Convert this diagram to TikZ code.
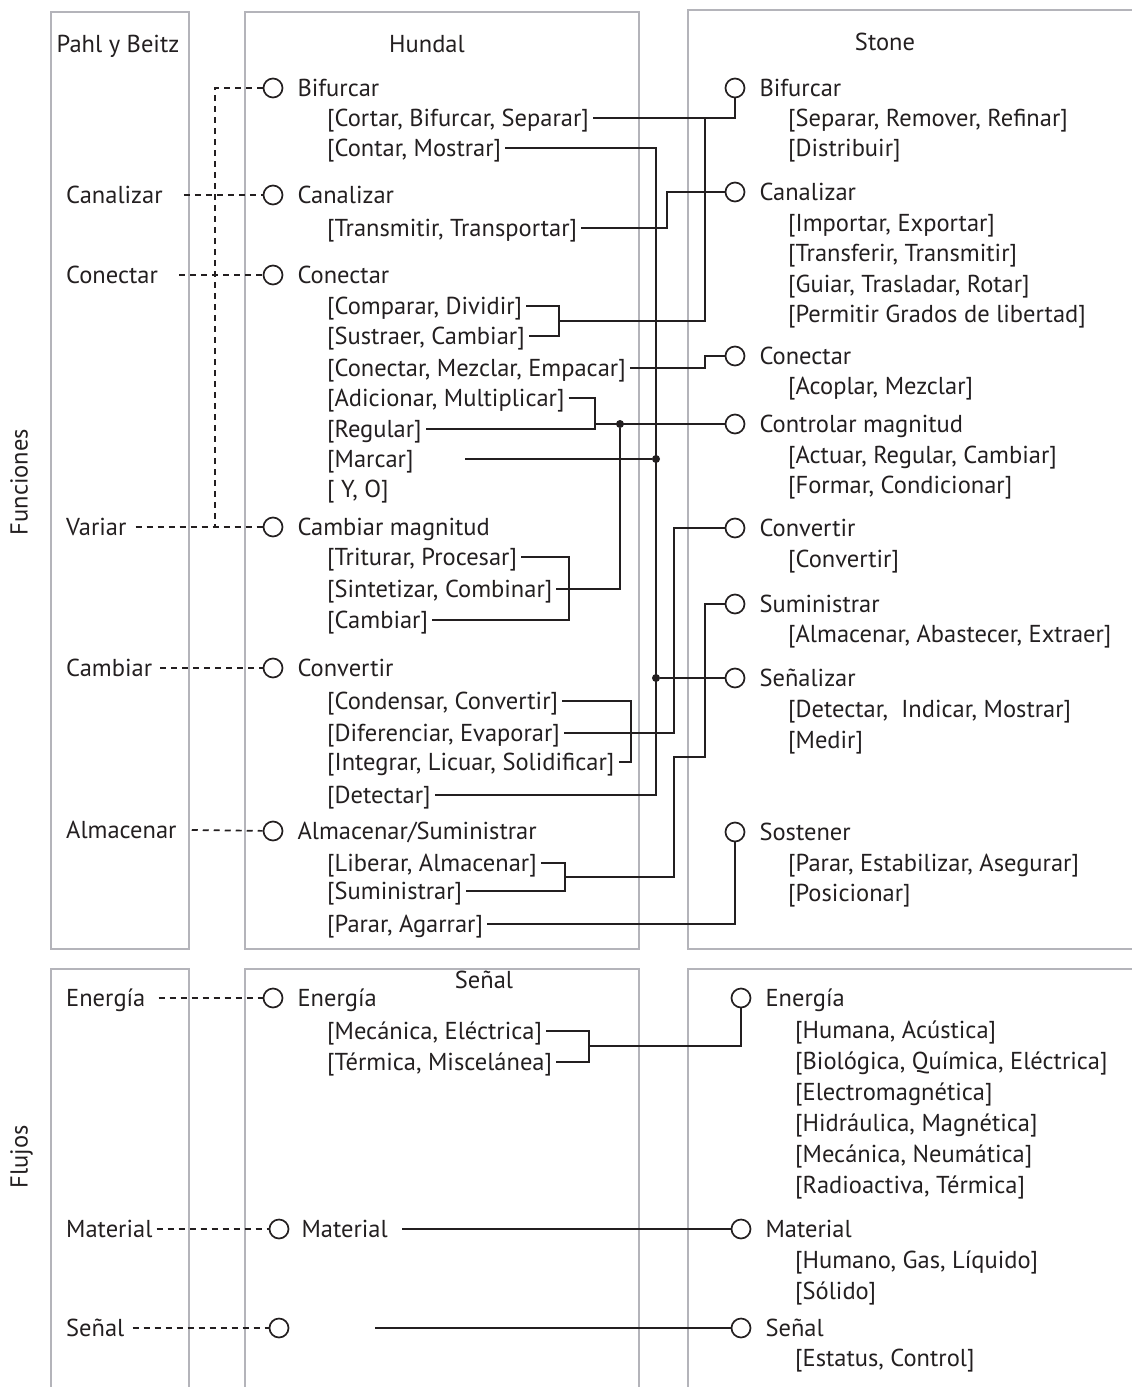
\documentclass[tikz,border=0pt]{standalone}
\usepackage{fontspec}
\setmainfont{PT Sans}
\usetikzlibrary{positioning}
\definecolor{Ink}{RGB}{35,31,32}
\definecolor{FrameGray}{RGB}{180,180,186}
\newcommand{\lblfont}{\fontsize{24.5}{28}\selectfont}

\begin{document}
\begin{tikzpicture}[x=1pt,y=-1pt,
    box/.style={draw=FrameGray,line width=1.7pt},
    ttl/.style={font=\lblfont,text=Ink,inner sep=0pt,text height=17pt,text depth=0pt},
    lbl/.style={font=\lblfont,text=Ink,anchor=west,inner xsep=4pt,inner ysep=0pt,
                text height=17pt,text depth=0pt},
    port/.style={circle,draw=Ink,line width=1.7pt,minimum size=19pt,inner sep=0pt},
    jn/.style={circle,fill=Ink,minimum size=8pt,inner sep=0pt},
    ln/.style={draw=Ink,line width=1.9pt},
    dsh/.style={draw=Ink,line width=1.7pt,dash pattern=on 6pt off 5pt}
  ]
    \useasboundingbox (0,0) rectangle (1132,1387);

    % frames
    \draw[box] (51,12) rectangle (189,949);
    \draw[box] (245,12) rectangle (639,949);
    \draw[box] (1140,10) -- (688,10) -- (688,949) -- (1140,949);
    \draw[box] (51,1395) -- (51,969) -- (189,969) -- (189,1395);
    \draw[box] (245,1395) -- (245,969) -- (639,969) -- (639,1395);
    \draw[box] (1140,969) -- (688,969) -- (688,1395);

    % headings
    \node[ttl] (tPB) at (118,44) {Pahl y Beitz};
    \node[ttl] (tHu) at (427,44) {Hundal};
    \node[ttl] (tSt) at (885,42) {Stone};
    \node[ttl] (tSg) at (484,980) {Señal};
    \node[ttl,rotate=90] (tFun) at (19,482) {Funciones};
    \node[ttl,rotate=90] (tFlu) at (19,1157) {Flujos};

    % Pahl y Beitz
    \node[lbl] (pbCan) at (62,195) {Canalizar};
    \node[lbl] (pbCon) at (62,275) {Conectar};
    \node[lbl] (pbVar) at (62,527) {Variar};
    \node[lbl] (pbCam) at (62,668) {Cambiar};
    \node[lbl] (pbAlm) at (62,830) {Almacenar};
    \node[lbl] (pbEne) at (62,998) {Energía};
    \node[lbl] (pbMat) at (62,1229) {Material};
    \node[lbl] (pbSen) at (62,1328) {Señal};

    % Hundal
    \node[port] (huBif) at (273,88) {};
    \node[lbl,right=10pt of huBif] (huBifT) {Bifurcar};
    \node[lbl] (hu1a) at (323,118) {[Cortar, Bifurcar, Separar]};
    \node[lbl] (hu1b) at (323,148) {[Contar, Mostrar]};
    \node[port] (huCan) at (273,195) {};
    \node[lbl,right=10pt of huCan] (huCanT) {Canalizar};
    \node[lbl] (hu2a) at (323,228) {[Transmitir, Transportar]};
    \node[port] (huCon) at (273,275) {};
    \node[lbl,right=10pt of huCon] (huConT) {Conectar};
    \node[lbl] (hu3a) at (323,306) {[Comparar, Dividir]};
    \node[lbl] (hu3b) at (323,336) {[Sustraer, Cambiar]};
    \node[lbl] (hu3c) at (323,368) {[Conectar, Mezclar, Empacar]};
    \node[lbl] (hu3d) at (323,398) {[Adicionar, Multiplicar]};
    \node[lbl] (hu3e) at (323,429) {[Regular]};
    \node[lbl] (hu3f) at (323,459) {[Marcar]};
    \node[lbl] (hu3g) at (323,489) {[ Y, O]};
    \node[port] (huCam) at (273,527) {};
    \node[lbl,right=10pt of huCam] (huCamT) {Cambiar magnitud};
    \node[lbl] (hu4a) at (323,557) {[Triturar, Procesar]};
    \node[lbl] (hu4b) at (323,589) {[Sintetizar, Combinar]};
    \node[lbl] (hu4c) at (323,620) {[Cambiar]};
    \node[port] (huCvt) at (273,668) {};
    \node[lbl,right=10pt of huCvt] (huCvtT) {Convertir};
    \node[lbl] (hu5a) at (323,701) {[Condensar, Convertir]};
    \node[lbl] (hu5b) at (323,733) {[Diferenciar, Evaporar]};
    \node[lbl] (hu5c) at (323,762) {[Integrar, Licuar, Solidificar]};
    \node[lbl] (hu5d) at (323,795) {[Detectar]};
    \node[port] (huAlm) at (273,831) {};
    \node[lbl,right=10pt of huAlm] (huAlmT) {Almacenar/Suministrar};
    \node[lbl] (hu6a) at (323,863) {[Liberar, Almacenar]};
    \node[lbl] (hu6b) at (323,891) {[Suministrar]};
    \node[lbl] (hu6c) at (323,924) {[Parar, Agarrar]};
    \node[port] (huEne) at (273,998) {};
    \node[lbl,right=10pt of huEne] (huEneT) {Energía};
    \node[lbl] (hu7a) at (323,1031) {[Mecánica, Eléctrica]};
    \node[lbl] (hu7b) at (323,1062) {[Térmica, Miscelánea]};
    \node[port] (huMat) at (279,1229) {};
    \node[lbl,right=8pt of huMat] (huMatT) {Material};
    \node[port] (huSen) at (279,1328) {};

    % Stone
    \node[port] (stBif) at (735,88) {};
    \node[lbl,right=10pt of stBif] (stBifT) {Bifurcar};
    \node[lbl] (st1a) at (784,118) {[Separar, Remover, Refinar]};
    \node[lbl] (st1b) at (784,148) {[Distribuir]};
    \node[port] (stCan) at (735,192) {};
    \node[lbl,right=10pt of stCan] (stCanT) {Canalizar};
    \node[lbl] (st2a) at (784,223) {[Importar, Exportar]};
    \node[lbl] (st2b) at (784,253) {[Transferir, Transmitir]};
    \node[lbl] (st2c) at (784,284) {[Guiar, Trasladar, Rotar]};
    \node[lbl] (st2d) at (784,314) {[Permitir Grados de libertad]};
    \node[port] (stCon) at (735,356) {};
    \node[lbl,right=10pt of stCon] (stConT) {Conectar};
    \node[lbl] (st3a) at (784,386) {[Acoplar, Mezclar]};
    \node[port] (stCtl) at (735,424) {};
    \node[lbl,right=10pt of stCtl] (stCtlT) {Controlar magnitud};
    \node[lbl] (st4a) at (784,455) {[Actuar, Regular, Cambiar]};
    \node[lbl] (st4b) at (784,485) {[Formar, Condicionar]};
    \node[port] (stCvt) at (735,528) {};
    \node[lbl,right=10pt of stCvt] (stCvtT) {Convertir};
    \node[lbl] (st5a) at (784,559) {[Convertir]};
    \node[port] (stSum) at (735,604) {};
    \node[lbl,right=10pt of stSum] (stSumT) {Suministrar};
    \node[lbl] (st6a) at (784,634) {[Almacenar, Abastecer, Extraer]};
    \node[port] (stSen) at (735,678) {};
    \node[lbl,right=10pt of stSen] (stSenT) {Señalizar};
    \node[lbl] (st7a) at (784,709) {[Detectar,\ \ Indicar, Mostrar]};
    \node[lbl] (st7b) at (784,740) {[Medir]};
    \node[port] (stSos) at (735,832) {};
    \node[lbl,right=10pt of stSos] (stSosT) {Sostener};
    \node[lbl] (st8a) at (784,863) {[Parar, Estabilizar, Asegurar]};
    \node[lbl] (st8b) at (784,893) {[Posicionar]};
    \node[port] (stEne) at (741,998) {};
    \node[lbl,right=10pt of stEne] (stEneT) {Energía};
    \node[lbl] (st9a) at (791,1030) {[Humana, Acústica]};
    \node[lbl] (st9b) at (791,1061) {[Biológica, Química, Eléctrica]};
    \node[lbl] (st9c) at (791,1092) {[Electromagnética]};
    \node[lbl] (st9d) at (791,1123) {[Hidráulica, Magnética]};
    \node[lbl] (st9e) at (791,1154) {[Mecánica, Neumática]};
    \node[lbl] (st9f) at (791,1185) {[Radioactiva, Térmica]};
    \node[port] (stMat) at (741,1229) {};
    \node[lbl,right=10pt of stMat] (stMatT) {Material};
    \node[lbl] (st10a) at (791,1260) {[Humano, Gas, Líquido]};
    \node[lbl] (st10b) at (791,1291) {[Sólido]};
    \node[port] (stSen2) at (741,1328) {};
    \node[lbl,right=10pt of stSen2] (stSen2T) {Señal};
    \node[lbl] (st11a) at (791,1358) {[Estatus, Control]};

    % Pahl y Beitz -> Hundal
    \draw[dsh] (huBif.west) -| (215,527);
    \draw[dsh] ([xshift=17pt]pbCan.east) -- (huCan);
    \draw[dsh] ([xshift=17pt]pbCon.east) -- (huCon);
    \draw[dsh] ([xshift=5pt]pbVar.east) -- (huCam);
    \draw[dsh] ([xshift=4pt]pbCam.east) -- (huCvt);
    \draw[dsh] ([xshift=11pt]pbAlm.east) -- (huAlm);
    \draw[dsh] ([xshift=9pt]pbEne.east) -- (huEne);
    \draw[dsh] (pbMat.east) -- (huMat);
    \draw[dsh] ([xshift=4pt]pbSen.east) -- (huSen);

    % Hundal -> Stone
    \coordinate (b1) at (559,321);
    \coordinate (b2) at (595,424);
    \coordinate (b3) at (569,589);
    \coordinate (b4) at (631,733);
    \coordinate (b5) at (565,877);
    \coordinate (b6) at (589,1046);
    \coordinate (kCan) at (667,192);
    \coordinate (kCon) at (705,356);
    \coordinate (kCvt) at (674,528);
    \coordinate (kAlm) at (674,757);
    \coordinate (kSum) at (705,604);
    \coordinate (kBus) at (656,795);
    \coordinate (kBif) at (705,118);
    \coordinate (mkA) at (465,459);
    \coordinate (mtA) at (402,1229);
    \coordinate (sgA) at (375,1328);
    \node[jn] (jCtl) at (620,424) {};
    \node[jn] (jMar) at (656,459) {};
    \node[jn] (jSen) at (656,678) {};

    \draw[ln] (hu1a.east) -| (stBif.south);
    \draw[ln] (hu3a.east) -| (b1) |- (hu3b.east);
    \draw[ln] (b1) -| (kBif);
    \draw[ln] (hu1b.east) -| (kBus) -- (hu5d.east);
    \draw[ln] (mkA) -- (jMar);
    \draw[ln] (jSen) -- (stSen);
    \draw[ln] (hu2a.east) -| (kCan) -- (stCan);
    \draw[ln] (hu3c.east) -| (kCon) -- (stCon);
    \draw[ln] (hu3d.east) -| (b2) |- (hu3e.east);
    \draw[ln] (b2) -- (stCtl);
    \draw[ln] (jCtl) |- (hu4b.east);
    \draw[ln] (hu4a.east) -| (b3) |- (hu4c.east);
    \draw[ln] (hu5a.east) -| (b4) |- (hu5c.east);
    \draw[ln] (hu5b.east) -| (kCvt) -- (stCvt);
    \draw[ln] (hu6a.east) -| (b5) |- (hu6b.east);
    \draw[ln] (b5) -| (kAlm) -| (kSum) -- (stSum);
    \draw[ln] (hu6c.east) -| (stSos.south);
    \draw[ln] (hu7a.east) -| (b6) |- (hu7b.east);
    \draw[ln] (b6) -| (stEne.south);
    \draw[ln] (mtA) -- (stMat);
    \draw[ln] (sgA) -- (stSen2);
\end{tikzpicture}
\end{document}
